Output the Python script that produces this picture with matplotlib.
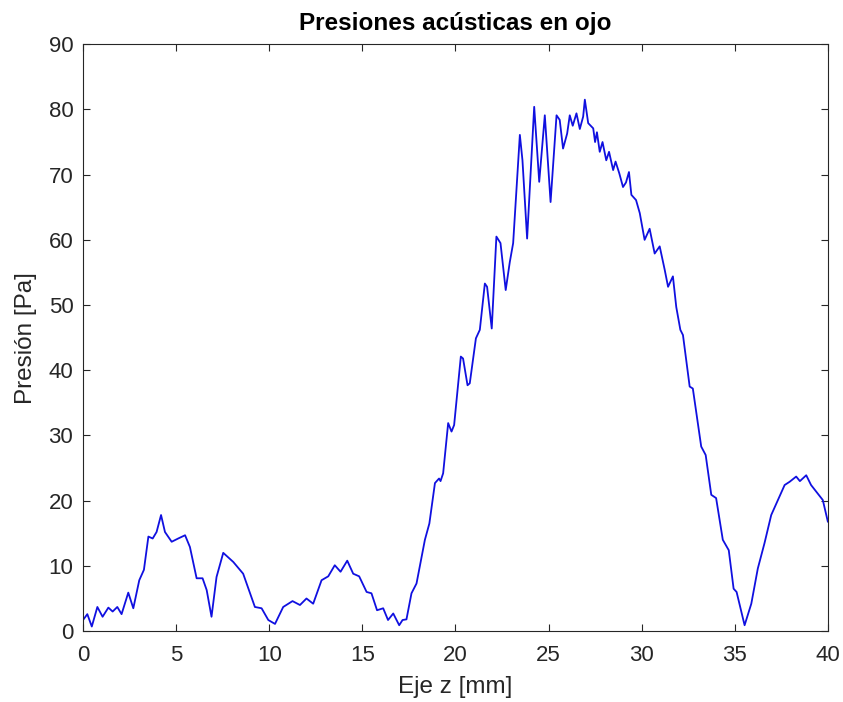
import matplotlib
matplotlib.use("Agg")
import matplotlib.pyplot as plt

z_mm = [0, 0.23, 0.47, 0.77, 1.05, 1.36, 1.59, 1.84, 2.07, 2.43, 2.70, 3.02, 3.27,
        3.51, 3.74, 3.95, 4.19, 4.40, 4.76, 5.11, 5.48, 5.74, 6.10, 6.42, 6.64,
        6.90, 7.17, 7.53, 8.07, 8.60, 9.23, 9.59, 9.95, 10.31, 10.75, 11.25,
        11.65, 12.0, 12.36, 12.81, 13.17, 13.52, 13.83, 14.19, 14.51, 14.83,
        15.23, 15.49, 15.79, 16.12, 16.38, 16.66, 16.98, 17.16, 17.37, 17.64,
        17.91, 18.36, 18.6, 18.9, 19.12, 19.2, 19.34, 19.61, 19.79, 19.93,
        20.29, 20.41, 20.65, 20.77, 21.1, 21.31, 21.58, 21.70, 21.95, 22.2,
        22.42, 22.7, 22.92, 23.1, 23.46, 23.6, 23.85, 24.23, 24.5, 24.8,
        25.11, 25.43, 25.6, 25.78, 26.0, 26.14, 26.3, 26.5, 26.68, 26.86,
        26.95, 27.13, 27.4, 27.5, 27.6, 27.75, 27.9, 28.1, 28.25, 28.47,
        28.6, 28.8, 29.0, 29.16, 29.32, 29.45, 29.7, 29.9, 30.16, 30.43,
        30.7, 30.97, 31.24, 31.42, 31.68, 31.86, 32.08, 32.22, 32.58, 32.75,
        32.94, 33.2, 33.44, 33.74, 34.0, 34.36, 34.68, 34.94, 35.1, 35.53,
        35.89, 36.24, 36.6, 36.96, 37.4, 37.68, 37.95, 38.3, 38.5, 38.84,
        39.1, 39.46, 39.73, 40.0]
presion = [1.7, 2.6, 0.7, 3.7, 2.2, 3.6, 3.0, 3.7, 2.6, 5.9, 3.5, 7.8, 9.4,
           14.5, 14.2, 15.2, 17.8, 15.2, 13.7, 14.2, 14.7, 12.9, 8.1, 8.1, 6.3,
           2.2, 8.3, 12.0, 10.6, 8.8, 3.7, 3.5, 1.7, 1.1, 3.7, 4.6,
           4.0, 5.0, 4.2, 7.8, 8.4, 10.1, 9.1, 10.8, 8.8, 8.4,
           6.0, 5.8, 3.2, 3.5, 1.7, 2.7, 0.9, 1.7, 1.8, 5.8,
           7.3, 14.0, 16.5, 22.7, 23.4, 23.0, 24.2, 31.9, 30.6, 31.6,
           42.1, 41.8, 37.7, 38.0, 44.9, 46.2, 53.3, 52.8, 46.4, 60.5,
           59.5, 52.3, 56.6, 59.5, 76.1, 72.2, 60.2, 80.4, 68.9, 79.1,
           65.8, 79.1, 78.4, 74.0, 76.3, 79.1, 77.5, 79.4, 77.0, 78.9,
           81.5, 77.9, 77.1, 75.0, 76.5, 73.5, 75.0, 72.2, 73.5, 70.7,
           72.0, 70.2, 68.1, 68.8, 70.4, 66.9, 66.1, 64.1, 60.0, 61.7,
           57.9, 59.0, 55.4, 52.8, 54.4, 49.7, 46.2, 45.4, 37.5, 37.2,
           33.4, 28.3, 27.0, 20.9, 20.4, 14.0, 12.4, 6.5, 6.0, 0.9,
           4.2, 9.6, 13.5, 17.8, 20.6, 22.4, 22.9, 23.7, 23.0, 23.9,
           22.4, 21.1, 20.1, 16.8]

x_ticks = [0, 5, 10, 15, 20, 25, 30, 35, 40]
y_ticks = [0, 10, 20, 30, 40, 50, 60, 70, 80, 90]

plt.rcParams['font.family'] = ['Liberation Sans', 'DejaVu Sans']
grey = '#262626'

fig = plt.figure(figsize=(8.43, 7.02), dpi=100)
ax = fig.add_axes([0.0985, 0.101, 0.8835, 0.836])
ax.plot(z_mm, presion, color='#1010e0', linewidth=1.3)

ax.set_xlim(0, 40)
ax.set_ylim(0, 90)
ax.set_xticks(x_ticks)
ax.set_yticks(y_ticks)
ax.tick_params(direction='in', top=True, right=True, length=5, width=0.8,
               labelsize=16, colors=grey)
ax.tick_params(axis='x', pad=10)
ax.tick_params(axis='y', pad=7)
for s in ax.spines.values():
    s.set_color(grey)
    s.set_linewidth(0.8)

ax.set_xlabel('Eje z [mm]', fontsize=17.5, color=grey, labelpad=7)
ax.set_ylabel('Presión [Pa]', fontsize=17.5, color=grey, labelpad=8)
ax.set_title('Presiones acústicas en ojo', fontsize=17.5, fontweight='bold', pad=10)

fig.savefig('out.png', dpi=100)
